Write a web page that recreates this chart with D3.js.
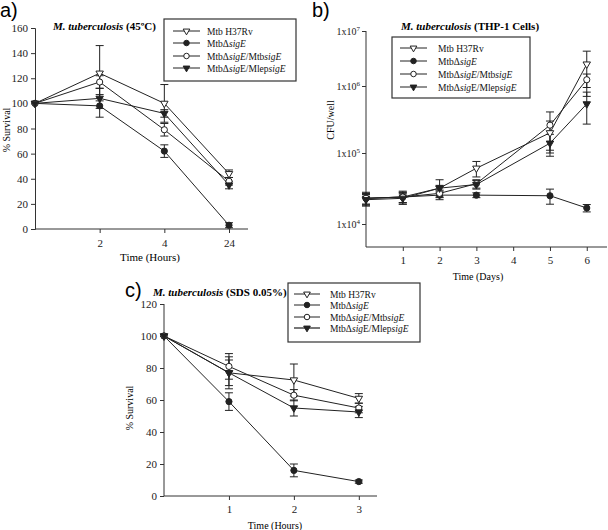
<!DOCTYPE html>
<html><head><meta charset="utf-8">
<script src="https://cdn.jsdelivr.net/npm/d3@7"></script>
<style>
body{margin:0;background:#fff;}
svg{display:block;font-family:"Liberation Serif","Times New Roman",serif;}
</style></head>
<body><svg id="c" width="608" height="530"></svg>
<script>
// ---------- DATA ----------
const seriesNames = ["H37Rv","sigE","comp","mlep"];

// Panel a: 45ºC, time (hours)
const aTimes = ["0","2","4","24"];
const aTickLabels = ["2","4","24"];
const aH37Rv = [100,124,100,44];   const aH37RvErr = [0,22,15,3];
const aSigE  = [100,98,62,3];      const aSigEErr  = [0,9,5,2];
const aComp  = [100,117,79,38];    const aCompErr  = [0,5,5,3];
const aMlep  = [100,104,92,35];    const aMlepErr  = [0,8,3,3];
const aYTicks = [0,20,40,60,80,100,120,140,160];

// Panel b: THP-1 cells, CFU/well, time (days)
const bDays = [0,1,2,3,5,6];
const bXTicks = [1,2,3,4,5,6];
const bH37Rv = [2.3e4,2.4e4,3.2e4,6.1e4,2.0e5,2.5e6]; const bH37RvErr = [0.5e4,0.5e4,1.0e4,1.5e4,1.0e5,1.8e6];
const bSigE  = [2.3e4,2.4e4,2.55e4,2.55e4,2.5e4,1.68e4]; const bSigEErr = [0.4e4,0.4e4,0.2e4,0.2e4,0.6e4,0.2e4];
const bComp  = [2.3e4,2.4e4,2.7e4,3.7e4,2.6e5,1.3e6]; const bCompErr = [0.4e4,0.4e4,0.3e4,0.5e4,1.5e5,0.35e6];
const bMlep  = [2.2e4,2.3e4,3.2e4,3.6e4,1.4e5,5.4e5]; const bMlepErr = [0.4e4,0.4e4,0.3e4,0.5e4,0.5e5,2.7e5];
const bYTicks = [1e4,1e5,1e6,1e7];
const bYExps = ["4","5","6","7"];

// Panel c: SDS 0.05%, time (hours)
const cTimes = [0,1,2,3];
const cXTicks = [1,2,3];
const cH37Rv = [100,77,72.5,61];  const cH37RvErr = [0,10,10,3];
const cSigE  = [100,59,16,9];     const cSigEErr  = [0,5.5,4,1];
const cComp  = [100,81,63,55];    const cCompErr  = [0,8,3.5,3];
const cMlep  = [100,77,55,52.5];  const cMlepErr  = [0,8,5,3.5];
const cYTicks = [0,20,40,60,80,100,120];

// ---------- DRAW ----------
const svg = d3.select("#c");
const INK = "#222";

function symbolFor(name){
  if(name==="H37Rv") return {type:d3.symbolTriangle, fill:"#fff", rot:180, size:24};
  if(name==="sigE")  return {type:d3.symbolCircle, fill:INK, rot:0, size:30};
  if(name==="comp")  return {type:d3.symbolCircle, fill:"#fff", rot:0, size:30};
  return {type:d3.symbolTriangle, fill:INK, rot:180, size:24};
}
function marker(g,name,x,y,scale){
  const s = symbolFor(name);
  g.append("path").attr("d", d3.symbol().type(s.type).size(s.size*(scale||1))())
    .attr("transform",`translate(${x},${y}) rotate(${s.rot})`)
    .attr("fill",s.fill).attr("stroke",INK).attr("stroke-width",1);
}

function legendText(t, parts){
  parts.forEach(p=>{
    const ts = t.append("tspan").text(p[0]);
    if(p[1]) ts.attr("font-style","italic");
  });
}
const legendEntries = [
  ["H37Rv", [["Mtb H37Rv",false]]],
  ["sigE",  [["MtbΔ",false],["sigE",true]]],
  ["comp",  [["MtbΔ",false],["sigE",true],["/Mtb",false],["sigE",true]]],
  ["mlep",  [["MtbΔ",false],["sig",true],["E/Mlep",false],["sigE",true]]]
];
function legend(box, rows, lineX0, lineX1, textX, fs, grayLast){
  svg.append("rect").attr("x",box[0]).attr("y",box[1]).attr("width",box[2]).attr("height",box[3])
    .attr("fill","#fff").attr("stroke","#333").attr("stroke-width",1.2);
  legendEntries.forEach((e,i)=>{
    const y = rows[i];
    const g = svg.append("g");
    const gray = grayLast && i===3;
    g.append("line").attr("x1",lineX0).attr("x2",lineX1).attr("y1",y).attr("y2",y)
      .attr("stroke", gray ? "#777" : INK).attr("stroke-width", gray?2:1);
    marker(g,e[0],(lineX0+lineX1)/2,y,0.8);
    const t = svg.append("text").attr("x",textX).attr("y",y+3.5).attr("font-size",fs).attr("fill","#111");
    legendText(t,e[1]);
  });
}

function plotSeries(g, xs, ys, errs, name, xS, yS, capW){
  xs.forEach((xv,i)=>{
    if(!errs[i]) return;
    const x = xS(xv);
    const y0 = yS(ys[i]-errs[i]), y1 = yS(ys[i]+errs[i]);
    g.append("line").attr("x1",x).attr("x2",x).attr("y1",y0).attr("y2",y1).attr("stroke",INK).attr("stroke-width",1);
    [y0,y1].forEach(yy=>g.append("line").attr("x1",x-capW).attr("x2",x+capW).attr("y1",yy).attr("y2",yy).attr("stroke",INK).attr("stroke-width",1));
  });
  const line = d3.line().x((d,i)=>xS(xs[i])).y(d=>yS(d));
  g.append("path").datum(ys).attr("d",line).attr("fill","none").attr("stroke",INK).attr("stroke-width",1);
}
function plotMarkers(g, xs, ys, name, xS, yS){
  xs.forEach((xv,i)=>marker(g,name,xS(xv),yS(ys[i])));
}
function styleAxis(sel){
  sel.selectAll("path,line").attr("stroke","#333").attr("stroke-width",1);
  sel.selectAll("text").attr("font-family","Liberation Serif, serif").attr("font-size",11).attr("fill","#222");
}

// ---- Panel a ----
{
  const x = d3.scalePoint().domain(aTimes).range([35,229]);
  const y = d3.scaleLinear().domain([0,160]).range([229,28]);
  const g = svg.append("g");
  const ax = g.append("g").attr("transform","translate(0,229)")
    .call(d3.axisBottom(x).tickValues(aTickLabels).tickSize(4).tickPadding(6));
  ax.select(".domain").attr("d","M35,0H248");
  styleAxis(ax);
  const ay = g.append("g").attr("transform","translate(35,0)")
    .call(d3.axisLeft(y).tickValues(aYTicks).tickSize(4).tickPadding(3));
  styleAxis(ay);
  const sets = [[aH37Rv,aH37RvErr,"H37Rv"],[aSigE,aSigEErr,"sigE"],[aComp,aCompErr,"comp"],[aMlep,aMlepErr,"mlep"]];
  sets.forEach(s=>plotSeries(g,aTimes,s[0],s[1],s[2],x,y,4));
  sets.forEach(s=>plotMarkers(g,aTimes,s[0],s[2],x,y));
  svg.append("text").attr("x",150).attr("y",261).attr("text-anchor","middle").attr("font-size",11).text("Time (Hours)");
  svg.append("text").attr("transform","translate(10,130) rotate(-90)").attr("text-anchor","middle").attr("font-size",10).text("%  Survival");
  const t = svg.append("text").attr("x",53).attr("y",30).attr("font-size",11).attr("font-weight","bold");
  t.append("tspan").attr("font-style","italic").text("M. tuberculosis");
  t.append("tspan").text(" (45ºC)");
  svg.append("text").attr("x",0).attr("y",17).attr("font-family","Liberation Sans, Arial, sans-serif").attr("font-size",20).text("a)");
  legend([164,19,132,62],[31,43,56,68],173,200,207,9.5,false);
}

// ---- Panel b ----
{
  const x = d3.scaleLinear().domain([0,6.55]).range([366,607]);
  const y = d3.scaleLog().domain([4700,1e4,1e5,1e6,1e7]).range([247,224,153,86,31]);
  const g = svg.append("g");
  const ax = g.append("g").attr("transform","translate(0,247)")
    .call(d3.axisBottom(x).tickValues(bXTicks).tickFormat(d3.format("d")).tickSize(4).tickPadding(5));
  ax.select(".domain").attr("d","M366,0H607");
  styleAxis(ax);
  const ay = g.append("g").attr("transform","translate(366,0)")
    .call(d3.axisLeft(y).tickValues(bYTicks).tickSize(4).tickPadding(4).tickFormat(""));
  ay.select(".domain").attr("d","M0,247V31");
  styleAxis(ay);
  bYTicks.forEach((v,i)=>{
    const t = svg.append("text").attr("x",360).attr("y",y(v)+4).attr("text-anchor","end").attr("font-size",10).attr("fill","#222");
    t.append("tspan").text("1x10");
    t.append("tspan").attr("font-size",7).attr("dy",-4).text(bYExps[i]);
  });
  const sets = [[bH37Rv,bH37RvErr,"H37Rv"],[bSigE,bSigEErr,"sigE"],[bComp,bCompErr,"comp"],[bMlep,bMlepErr,"mlep"]];
  sets.forEach(s=>plotSeries(g,bDays,s[0],s[1],s[2],x,y,4));
  sets.forEach(s=>plotMarkers(g,bDays,s[0],s[2],x,y));
  svg.append("text").attr("x",478).attr("y",280).attr("text-anchor","middle").attr("font-size",10).text("Time (Days)");
  svg.append("text").attr("transform","translate(334,120) rotate(-90)").attr("text-anchor","middle").attr("font-size",10).text("CFU/well");
  const t = svg.append("text").attr("x",470).attr("y",30).attr("text-anchor","middle").attr("font-size",11).attr("font-weight","bold");
  t.append("tspan").attr("font-style","italic").text("M. tuberculosis");
  t.append("tspan").text(" (THP-1 Cells)");
  svg.append("text").attr("x",312).attr("y",17).attr("font-family","Liberation Sans, Arial, sans-serif").attr("font-size",20).text("b)");
  legend([392,37,138,61],[48,61,74,87],400,427,438,9.5,false);
}

// ---- Panel c ----
{
  const x = d3.scaleLinear().domain([0,3.28]).range([164,377]);
  const y = d3.scaleLinear().domain([0,120]).range([496,304]);
  const g = svg.append("g");
  const ax = g.append("g").attr("transform","translate(0,496)")
    .call(d3.axisBottom(x).tickValues(cXTicks).tickFormat(d3.format("d")).tickSize(4).tickPadding(5));
  ax.select(".domain").attr("d","M164,0H377");
  styleAxis(ax);
  const ay = g.append("g").attr("transform","translate(164,0)")
    .call(d3.axisLeft(y).tickValues(cYTicks).tickSize(4).tickPadding(3));
  ay.select(".domain").attr("d","M0,496V304");
  styleAxis(ay);
  const sets = [[cH37Rv,cH37RvErr,"H37Rv"],[cSigE,cSigEErr,"sigE"],[cComp,cCompErr,"comp"],[cMlep,cMlepErr,"mlep"]];
  sets.forEach(s=>plotSeries(g,cTimes,s[0],s[1],s[2],x,y,4));
  sets.forEach(s=>plotMarkers(g,cTimes,s[0],s[2],x,y));
  svg.append("text").attr("x",275).attr("y",529).attr("text-anchor","middle").attr("font-size",10).text("Time  (Hours)");
  svg.append("text").attr("transform","translate(133,408) rotate(-90)").attr("text-anchor","middle").attr("font-size",10).text("% Survival");
  const t = svg.append("text").attr("x",153).attr("y",296).attr("font-size",11).attr("font-weight","bold");
  t.append("tspan").attr("font-style","italic").text("M. tuberculosis");
  t.append("tspan").text(" (SDS 0.05%)");
  svg.append("text").attr("x",125).attr("y",297).attr("font-family","Liberation Sans, Arial, sans-serif").attr("font-size",20).text("c)");
  legend([288,283,132,59],[294,305,317,328],294,320,330,9.5,true);
}
</script></body></html>
